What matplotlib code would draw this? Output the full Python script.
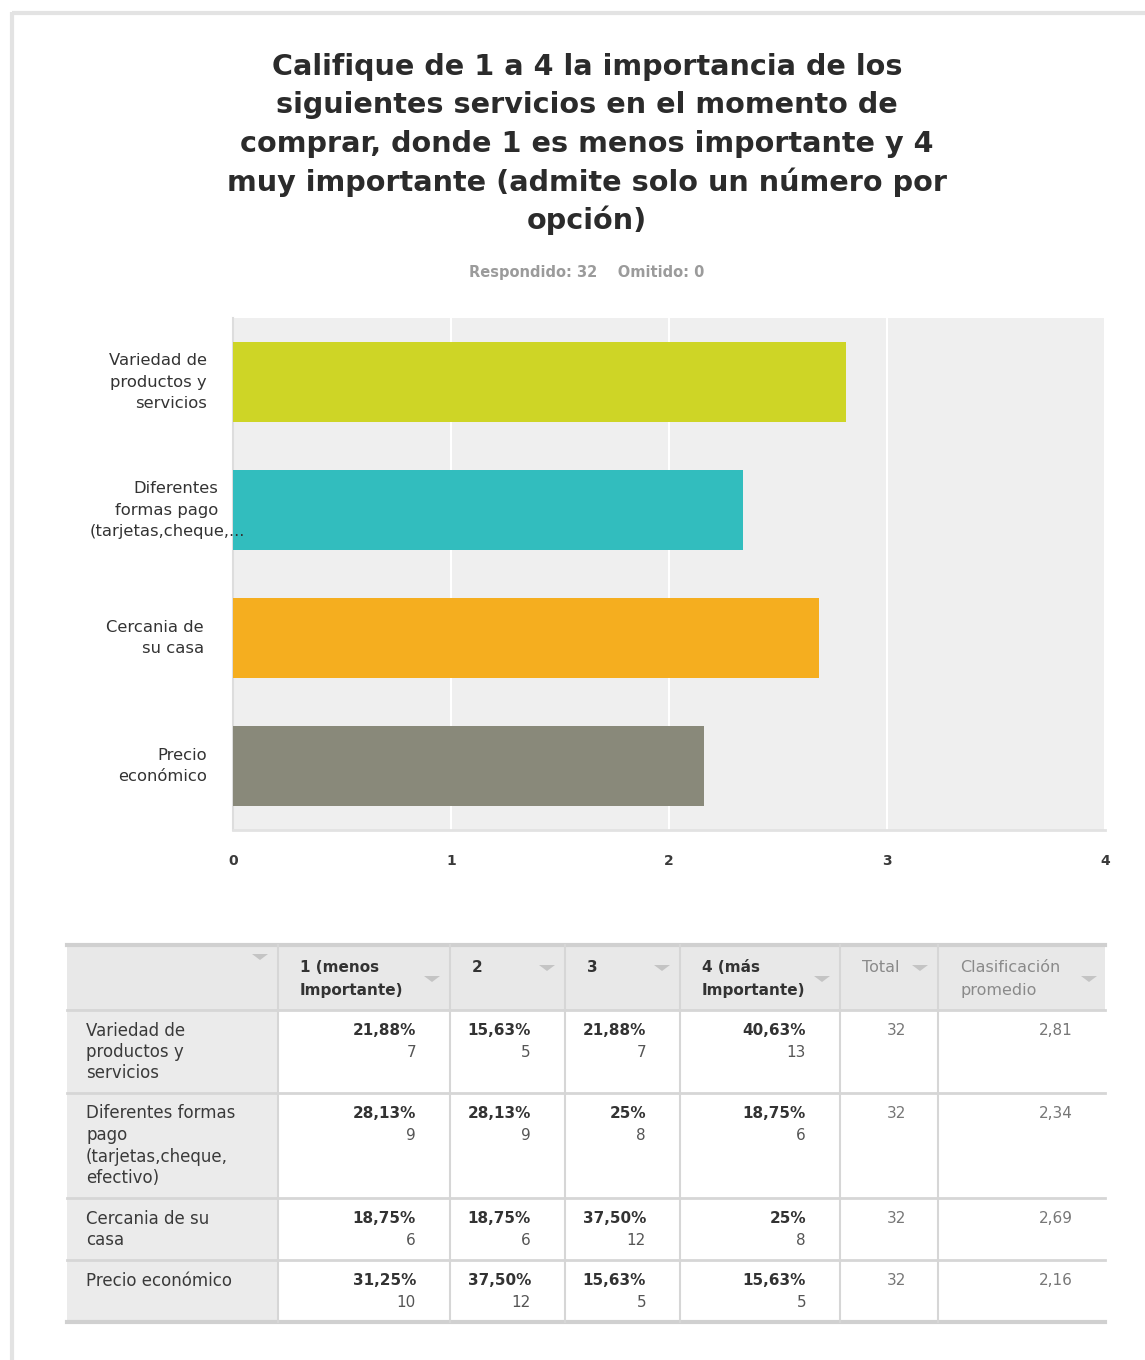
import matplotlib
matplotlib.use("Agg")
import matplotlib.pyplot as plt
from matplotlib.patches import Rectangle, Polygon
from matplotlib.transforms import blended_transform_factory

plt.rcParams['font.family'] = ['DejaVu Sans']

# ---------------- data ----------------
title_lines = ["Califique de 1 a 4 la importancia de los",
               "siguientes servicios en el momento de",
               "comprar, donde 1 es menos importante y 4",
               "muy importante (admite solo un número por",
               "opción)"]
subtitle = "Respondido: 32    Omitido: 0"
categories = ["Variedad de\nproductos y\nservicios",
              "Diferentes\nformas pago\n(tarjetas,cheque,...",
              "Cercania de\nsu casa",
              "Precio\neconómico"]
averages = [2.81, 2.34, 2.69, 2.16]
bar_colors = ["#ced526", "#32bdbe", "#f5ae1f", "#89897a"]
x_ticks = [0, 1, 2, 3, 4]

table_headers = ["", "1 (menos\nImportante)", "2", "3", "4 (más\nImportante)", "Total",
                 "Clasificación\npromedio"]
row_labels = ["Variedad de\nproductos y\nservicios",
              "Diferentes formas\npago\n(tarjetas,cheque,\nefectivo)",
              "Cercania de su\ncasa",
              "Precio económico"]
percentages = [[21.88, 15.63, 21.88, 40.63],
               [28.13, 28.13, 25.00, 18.75],
               [18.75, 18.75, 37.50, 25.00],
               [31.25, 37.50, 15.63, 15.63]]
counts = [[7, 5, 7, 13],
          [9, 9, 8, 6],
          [6, 6, 12, 8],
          [10, 12, 5, 5]]
totals = [32, 32, 32, 32]

W, H = 1145, 1360
fig = plt.figure(figsize=(W / 100, H / 100), dpi=100)
fig.patch.set_facecolor("white")

# overlay axes in pixel coordinates for frame, title and table
ov = fig.add_axes([0, 0, 1, 1])
ov.set_xlim(0, W)
ov.set_ylim(H, 0)
ov.axis("off")
ov.set_zorder(0)

# card frame
ov.plot([12, W], [13, 13], color="#e3e3e3", lw=3, solid_capstyle="butt")
ov.plot([12, 12], [12, H], color="#e3e3e3", lw=3, solid_capstyle="butt")

# title
for i, line in enumerate(title_lines):
    ov.text(587, 67 + i * 38.3, line, ha="center", va="center", fontsize=20.6,
            fontweight="bold", color="#2b2b2b")
ov.text(587, 272, subtitle, ha="center", va="center", fontsize=10.5,
        fontweight="bold", color="#9b9b9b")

# ---------------- bar chart ----------------
ax = fig.add_axes([233 / W, 1 - 830 / H, 872 / W, 512 / H])
ax.set_zorder(2)
ax.set_facecolor("#efefef")
ypos = list(range(len(categories)))
ax.barh(ypos, averages, height=0.62, color=bar_colors, zorder=3)
ax.set_xlim(0, 4)
ax.set_ylim(len(categories) - 0.5, -0.5)
ax.set_xticks(x_ticks)
ax.set_xticklabels([str(t) for t in x_ticks], fontsize=10, color="#3a3a3a",
                   fontweight="bold")
ax.grid(axis="x", color="white", lw=1.5, zorder=1)
ax.tick_params(axis="x", length=0, pad=17)
ax.tick_params(axis="y", length=0)
ax.set_yticks(ypos)
ax.set_yticklabels([])
for s in ["top", "right"]:
    ax.spines[s].set_visible(False)
ax.spines["left"].set_color("#dddddd")
ax.spines["left"].set_linewidth(1.5)
ax.spines["bottom"].set_color("#e2e2e2")
ax.spines["bottom"].set_linewidth(2)

trans = blended_transform_factory(ax.transAxes, ax.transData)
label_right = [-26 / 872, -15 / 872, -29 / 872, -26 / 872]
for i, lab in enumerate(categories):
    lines = lab.split("\n")
    n = len(lines)
    for j, ln in enumerate(lines):
        dy = (j - (n - 1) / 2) * 0.168
        xr = label_right[i]
        if i == 1 and j == 2:
            xr = 12 / 872
        ax.text(xr, i + dy, ln, transform=trans, ha="right", va="center",
                fontsize=11.8, color="#333333", clip_on=False, zorder=5)

# ---------------- table ----------------
col_edges = [67, 278, 450, 565, 680, 840, 938, 1105]
row_edges = [945, 1010, 1093, 1198, 1260, 1322]
grid_c = "#d6d6d6"

# backgrounds
ov.add_patch(Rectangle((col_edges[0], row_edges[0]), col_edges[-1] - col_edges[0],
                       row_edges[1] - row_edges[0], facecolor="#e8e8e8", edgecolor="none"))
ov.add_patch(Rectangle((col_edges[0], row_edges[1]), col_edges[1] - col_edges[0],
                       row_edges[-1] - row_edges[1], facecolor="#ebebeb", edgecolor="none"))
# grid lines
for y in row_edges[1:-1]:
    ov.plot([col_edges[0], col_edges[-1]], [y, y], color=grid_c, lw=2)
for y in (row_edges[0], row_edges[-1]):
    ov.plot([col_edges[0], col_edges[-1]], [y, y], color="#d0d0d0", lw=3)
for x in col_edges[1:-1]:
    ov.plot([x, x], [row_edges[0], row_edges[-1]], color=grid_c, lw=1.5)

# header
hdr_style = [None, "bold", "bold", "bold", "bold", "normal", "normal"]
hdr_color = [None, "#333333", "#333333", "#333333", "#333333", "#8a8a8a", "#8a8a8a"]
hdr_size = [None, 11, 11, 11, 11, 11.5, 11.5]
tri_y = [957, 979, 968, 968, 979, 968, 979]
for c, h in enumerate(table_headers):
    if h:
        lines = h.split("\n")
        for j, ln in enumerate(lines):
            ov.text(col_edges[c] + 22, 968 + j * 22, ln, ha="left", va="center",
                    fontsize=hdr_size[c], fontweight=hdr_style[c], color=hdr_color[c])
    xr = col_edges[c + 1] - (18 if c < 6 else 16)
    ty = tri_y[c]
    ov.add_patch(Polygon([[xr - 8, ty - 3], [xr + 8, ty - 3], [xr, ty + 3]],
                         closed=True, facecolor="#c4c4c4", edgecolor="none"))


def fmt_pct(v):
    if abs(v - round(v)) < 1e-9:
        return f"{int(round(v))}%"
    return f"{v:.2f}".replace(".", ",") + "%"


for r in range(len(row_labels)):
    y0 = row_edges[r + 1] + 20.5
    for j, ln in enumerate(row_labels[r].split("\n")):
        ov.text(86, y0 + j * 21.5, ln, ha="left", va="center", fontsize=12,
                color="#3a3a3a")
    for c in range(4):
        xr = col_edges[c + 2] - 34
        ov.text(xr, y0, fmt_pct(percentages[r][c]), ha="right", va="center",
                fontsize=11, fontweight="bold", color="#333333")
        ov.text(xr, y0 + 22, str(counts[r][c]), ha="right", va="center",
                fontsize=11, color="#555555")
    ov.text(896, y0, str(totals[r]), ha="center", va="center", fontsize=11,
            color="#777777")
    ov.text(1073, y0, f"{averages[r]:.2f}".replace(".", ","), ha="right",
            va="center", fontsize=11, color="#777777")

fig.savefig("out.png", dpi=100, facecolor="white")
